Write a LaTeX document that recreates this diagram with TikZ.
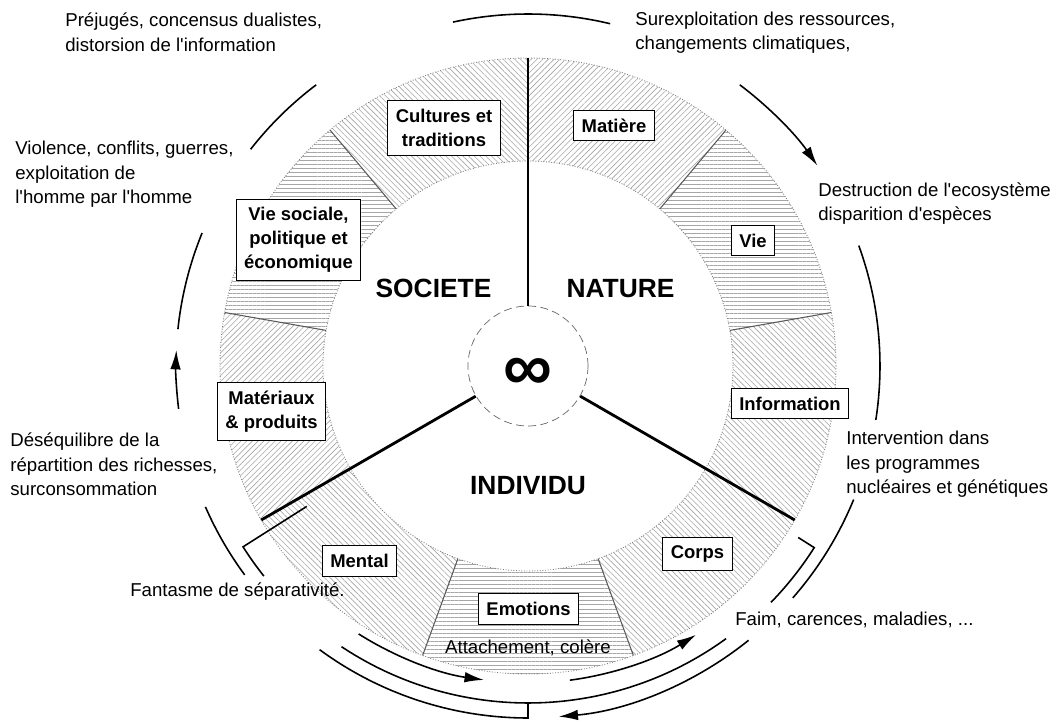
\documentclass[tikz,border=0pt]{standalone}
\usepackage{fontspec}
\setmainfont{Liberation Sans}[Ligatures=TeXOff]
\usetikzlibrary{patterns.meta, arrows.meta}

\begin{document}
\begin{tikzpicture}
\tikzset{ >={Latex[length=11pt, width=6pt]},
  box/.style={draw, fill=white, line width=0.6pt, align=center, inner xsep=4.5pt, inner ysep=4.8pt,
    font=\fontsize{10.5}{13.6}\selectfont\bfseries},
  big/.style={font=\fontsize{15}{18}\selectfont\bfseries},
  txt/.style={align=left, inner sep=0pt, font=\fontsize{10.6}{14}\selectfont},
  ring/.style={draw=gray, densely dotted, line width=0.5pt},
  sep/.style={draw=gray!70!black, line width=0.6pt},
  bow/.style={line width=0.9pt},
  hatchH/.style={pattern={Lines[angle=0, distance=2.3pt, line width=0.35pt]}, pattern color=gray!70},
  hatchNE/.style={pattern={Lines[angle=45, distance=2.3pt, line width=0.35pt]}, pattern color=gray!70},
  hatchNW/.style={pattern={Lines[angle=-45, distance=2.3pt, line width=0.35pt]}, pattern color=gray!70},
}
\path [use as bounding box] (-10.56,-7.12) rectangle (10.6,7.32);

%\draw [lightgray, dashed](-10,-7) grid (10,7);

% ring sectors
\fill [hatchNE] (90:4.1) arc (90:50:4.1) -- (50:6.16) arc (50:90:6.16) -- cycle;
\fill [hatchH] (50:4.1) arc (50:10:4.1) -- (10:6.16) arc (10:50:6.16) -- cycle;
\fill [hatchNW] (10:4.1) arc (10:-30:4.1) -- (-30:6.16) arc (-30:10:6.16) -- cycle;
\fill [hatchNW] (-30:4.1) arc (-30:-70:4.1) -- (-70:6.16) arc (-70:-30:6.16) -- cycle;
\fill [hatchH] (-70:4.1) arc (-70:-110:4.1) -- (-110:6.16) arc (-110:-70:6.16) -- cycle;
\fill [hatchNW] (-110:4.1) arc (-110:-150:4.1) -- (-150:6.16) arc (-150:-110:6.16) -- cycle;
\fill [hatchNE] (210:4.1) arc (210:170:4.1) -- (170:6.16) arc (170:210:6.16) -- cycle;
\fill [hatchH] (170:4.1) arc (170:130:4.1) -- (130:6.16) arc (130:170:6.16) -- cycle;
\fill [hatchNW] (130:4.1) arc (130:90:4.1) -- (90:6.16) arc (90:130:6.16) -- cycle;

\draw [ring] (0,0) circle (4.1);
\draw [ring] (0,0) circle (6.16);

\draw [sep] (50:4.1) -- (50:6.16);
\draw [sep] (10:4.1) -- (10:6.16);
\draw [sep] (-70:4.1) -- (-70:6.16);
\draw [sep] (-110:4.1) -- (-110:6.16);
\draw [sep] (170:4.1) -- (170:6.16);
\draw [sep] (130:4.1) -- (130:6.16);

% centre
\node [draw=gray!80!black, dash pattern=on 4.5pt off 2.5pt, circle, fill=white, minimum size=2.4cm, inner sep=0pt]
  (O) at (0,0) {};
\node (Inf) at (0,-0.16) {\fontsize{39}{39}\selectfont\bfseries ∞};

\draw [line width=1.6pt] (O.90) -- (90:6.16);
\draw [line width=1.6pt] (O.210) -- (210:6.16);
\draw [line width=1.6pt] (O.330) -- (330:6.16);

\node [big, anchor=base] (S) at (-1.89, 1.36) {SOCIETE};
\node [big, anchor=base] (N) at ( 1.85, 1.36) {NATURE};
\node [big, anchor=base] (I) at ( 0.00,-2.58) {INDIVIDU};

% boxes
\node [box] (Ma) at ( 1.72, 4.81) {Matière};
\node [box] (Vi) at ( 4.50, 2.51) {Vie};
\node [box] (In) at ( 5.24,-0.75) {Information};
\node [box] (Co) at ( 3.39,-3.76) {Corps};
\node [box] (Em) at ( 0.01,-4.86) {Emotions};
\node [box] (Me) at (-3.37,-3.90) {Mental};
\node [box] (Mp) at (-5.13,-0.91) {Matériaux\\\& produits};
\node [box] (Vs) at (-4.59, 2.52) {Vie sociale,\\politique et\\économique};
\node [box] (Ct) at (-1.68, 4.76) {Cultures et\\traditions};
\node [txt] (At) at ( 0.00,-5.64) {Attachement, colère};

% outer texts
\node [txt, anchor=west] (Pj) at (-9.26, 6.67) {Préjugés, concensus dualistes,\\distorsion de l'information};
\node [txt, anchor=west] (Sx) at ( 2.14, 6.67) {Surexploitation des ressources,\\changements climatiques,};
\node [txt, anchor=west] (Ds) at ( 5.80, 3.25) {Destruction de l'ecosystème\\disparition d'espèces};
\node [txt, anchor=west] (Vc) at (-10.26, 3.83) {Violence, conflits, guerres,\\exploitation de\\l'homme par l'homme};
\node [txt, anchor=west] (Dq) at (-10.36,-1.97) {Déséquilibre de la\\répartition des richesses,\\surconsommation};
\node [txt, anchor=west] (Iv) at ( 6.36,-1.97) {Intervention dans\\les programmes\\nucléaires et génétiques};
\node [txt, anchor=east] (Fs) at (-3.66,-4.52) {Fantasme de séparativité.};
\node [txt, anchor=west] (Fm) at ( 4.14,-5.08) {Faim, carences, maladies, ...};

% outer arcs
\draw [bow] (102.3:7.04) arc (102.3:76.5:7.04);
\draw [bow, ->] (53:7.04) arc (53:34.7:7.04);
\draw [bow] (20:7.04) arc (20:-8.8:7.04);
\draw [bow] (-22.3:7.04) arc (-22.3:-41.2:7.04);
\draw [bow] (-32.4:6.4) -- (-32.4:6.78) arc (-32.4:-44.2:6.78);
\draw [bow] (127:7.04) arc (127:142:7.04);
\draw [bow] (157.8:7.04) arc (157.8:174:7.04);
\draw [bow, ->] (187:7.04) arc (187:177.4:7.04);
\draw [bow] (203.6:7.04) arc (203.6:216.4:7.04);
\draw [bow] (212.4:5.24) -- (212.4:6.75) arc (212.4:218.5:6.75);

% bottom arcs
\draw [bow, ->] (237.7:6.34) arc (237.7:262:6.34);
\draw [bow, ->] (277.6:6.34) arc (277.6:302:6.34);
\draw [bow] (236.4:6.74) arc (236.4:306:6.74);
\draw [bow] (233.7:7.04) arc (233.7:270:7.04) -- (270:6.74);
\draw [bow, ->] (308.8:7.04) arc (308.8:275:7.04);

\end{tikzpicture}
\end{document}
